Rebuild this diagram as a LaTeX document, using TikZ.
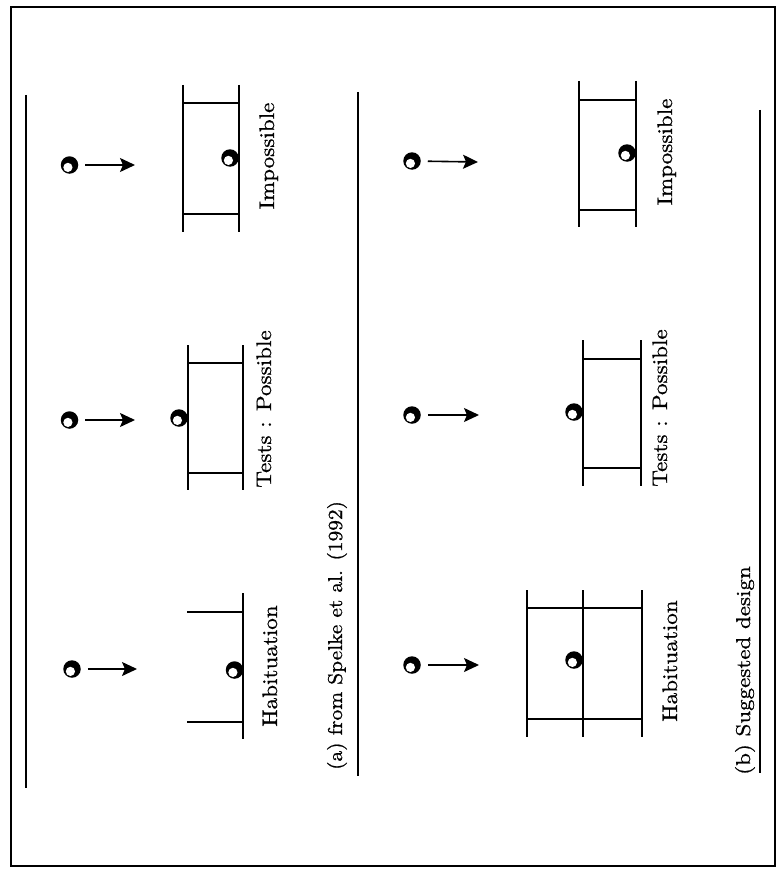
\documentclass[tikz,border=0pt]{standalone}
\usepackage{fontspec}
\usepackage{graphicx}
\newfontfamily\labfont{lmroman10-regular.otf}[FakeBold=0.8]
\usetikzlibrary{arrows.meta}
\begin{document}
\begin{tikzpicture}[x=1pt,y=-1pt,
  frame/.style={line width=1.3pt},
  rule/.style={line width=1.8pt},
  wall/.style={line width=1.9pt},
  ledge/.style={line width=1.7pt},
  ball/.style={circle,fill=black,minimum size=17.5pt,inner sep=0pt,outer sep=0pt,
    path picture={\fill[white] ([xshift=-1.6pt,yshift=-2.4pt]path picture bounding box.center) circle (4.6pt);}},
  arr/.style={line width=1.6pt,shorten <=7pt,-{Stealth[length=15pt,width=14pt,inset=3pt]}},
  lab/.style={rotate=90,anchor=base,inner sep=0pt,font=\labfont\fontsize{21}{25}\selectfont},
  captext/.style={rotate=90,anchor=base west,inner sep=0pt,font=\labfont\fontsize{20}{24}\selectfont}
]
\useasboundingbox (0,0) rectangle (779,872);
% frame
\draw[frame] (11,7) rectangle (775,866);
% long rules
\coordinate (r1a) at (26,95);  \coordinate (r1b) at (26,788);
\coordinate (r2a) at (358,92); \coordinate (r2b) at (358,776);
\coordinate (r3a) at (760,110); \coordinate (r3b) at (760,773);
\draw[rule] (r1a) -- (r1b);
\draw[rule] (r2a) -- (r2b);
\draw[rule] (r3a) -- (r3b);

% ================= panel (a) =================
% Impossible
\node[ball] (aIb) at (69.5,165) {};
\coordinate (aIt) at (135,165);
\draw[arr] (aIb) -- (aIt);
\draw[wall] (183,85) -- (183,232);
\draw[wall] (239,85) -- (239,232);
\draw[ledge] (183,103) -- (239,103);
\draw[ledge] (183,214) -- (239,214);
\node[ball] (aIx) at (230,158) {};
\node[lab] (aIl) at (274,156) {\scalebox{1.1}[1]{Impossible}};

% Tests : Possible
\node[ball] (aTb) at (69.5,420) {};
\coordinate (aTt) at (135,420);
\draw[arr] (aTb) -- (aTt);
\draw[wall] (188,345) -- (188,490);
\draw[wall] (243,345) -- (243,490);
\draw[ledge] (188,363) -- (243,363);
\draw[ledge] (188,473) -- (243,473);
\node[ball] (aTx) at (179,418) {};
\node[lab] (aTl) at (271,409) {\scalebox{1.1}[1]{Tests : Possible}};

% Habituation
\node[ball] (aHb) at (72,669) {};
\coordinate (aHt) at (137,669);
\draw[arr] (aHb) -- (aHt);
\draw[wall] (243,593) -- (243,739);
\draw[ledge] (187,612) -- (243,612);
\draw[ledge] (187,722) -- (243,722);
\node[ball] (aHx) at (234.5,670) {};
\node[lab] (aHl) at (277,666) {\scalebox{1.1}[1]{Habituation}};

\node[captext] (capa) at (342,770) {\scalebox{1.07}[1]{(a) from Spelke et al. (1992)}};

% ================= panel (b) =================
% Impossible
\node[ball] (bIb) at (412,161) {};
\coordinate (bIt) at (478,162);
\draw[arr] (bIb) -- (bIt);
\draw[wall] (579,81) -- (579,227);
\draw[wall] (636,81) -- (636,227);
\draw[ledge] (579,100) -- (636,100);
\draw[ledge] (579,210) -- (636,210);
\node[ball] (bIx) at (627,153) {};
\node[lab] (bIl) at (672,152) {\scalebox{1.1}[1]{Impossible}};

% Tests : Possible
\node[ball] (bTb) at (412,415) {};
\coordinate (bTt) at (479,415);
\draw[arr] (bTb) -- (bTt);
\draw[wall] (583,340) -- (583,486);
\draw[wall] (641,340) -- (641,486);
\draw[ledge] (583,359) -- (641,359);
\draw[ledge] (583,468) -- (641,468);
\node[ball] (bTx) at (574,412) {};
\node[lab] (bTl) at (667,408) {\scalebox{1.1}[1]{Tests : Possible}};

% Habituation
\node[ball] (bHb) at (412,665) {};
\coordinate (bHt) at (479,665);
\draw[arr] (bHb) -- (bHt);
\draw[wall] (527,590) -- (527,737);
\draw[wall] (583,590) -- (583,737);
\draw[wall] (642,590) -- (642,737);
\draw[ledge] (527,608) -- (642,608);
\draw[ledge] (527,719) -- (642,719);
\node[ball] (bHx) at (574,660) {};
\node[lab] (bHl) at (677,661) {\scalebox{1.1}[1]{Habituation}};

\node[captext] (capb) at (750,775) {\scalebox{1.15}[1]{(b) Suggested design}};
\end{tikzpicture}
\end{document}
